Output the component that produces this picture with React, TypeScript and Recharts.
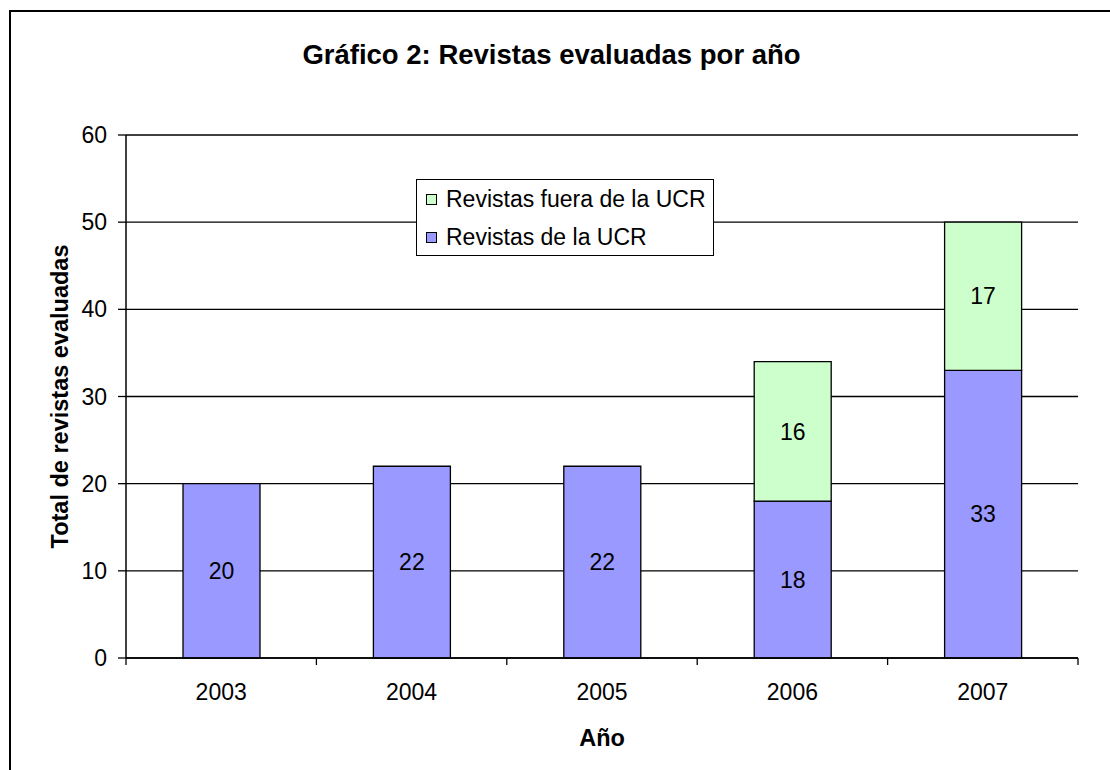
import React from "react";
import {
  Bar,
  BarChart,
  CartesianGrid,
  LabelList,
  Legend,
  XAxis,
  YAxis,
} from "recharts";

const years = ["2003", "2004", "2005", "2006", "2007"];
const revistasUcr = [20, 22, 22, 18, 33];
const revistasFuera: (number | null)[] = [null, null, null, 16, 17];
const yTicks = [0, 10, 20, 30, 40, 50, 60];

const data = years.map((year, i) => ({
  year,
  ucr: revistasUcr[i],
  fuera: revistasFuera[i],
}));

const W = 1110;
const H = 770;
const margin = { top: 135, right: 32, bottom: 72, left: 46 };
const yAxisWidth = 80;
const xAxisHeight = 40;
const plotWidth = W - margin.left - yAxisWidth - margin.right;
const band = plotWidth / years.length;

const FONT = "'Liberation Sans', Arial, sans-serif";
const BLUE = "#9999FF";
const GREEN = "#CCFFCC";
const FS = 23;

function YearTick(props: any) {
  const { x, y, payload, index } = props;
  const half = band / 2;
  return (
    <g>
      <text x={x} y={y + 42} textAnchor="middle" fontSize={FS} fill="#000" fontFamily={FONT}>
        {payload.value}
      </text>
      <line x1={x - half} x2={x - half} y1={y} y2={y + 7} stroke="#000" strokeWidth={1.3} />
      {index === years.length - 1 && (
        <line x1={x + half} x2={x + half} y1={y} y2={y + 7} stroke="#000" strokeWidth={1.3} />
      )}
    </g>
  );
}

function LegendBox(props: any) {
  const items = [...(props.payload || [])].reverse();
  return (
    <div
      style={{
        border: "1.5px solid #000",
        background: "#fff",
        boxSizing: "border-box",
        width: 298,
        height: 77,
        padding: "0 0 0 9px",
        fontFamily: FONT,
        fontSize: FS,
      }}
    >
      {items.map((it: any) => (
        <div key={it.value} style={{ display: "flex", alignItems: "center", height: 38 }}>
          <span
            style={{
              display: "inline-block",
              width: 9,
              height: 9,
              border: "1.3px solid #000",
              background: it.color,
              marginRight: 9,
            }}
          />
          <span>{it.value}</span>
        </div>
      ))}
    </div>
  );
}

export default function App() {
  return (
    <div
      style={{
        position: "absolute",
        left: 0,
        top: 0,
        width: W,
        height: H,
        overflow: "hidden",
        background: "#fff",
        fontFamily: FONT,
      }}
    >
      <div
        style={{
          position: "absolute",
          left: 9,
          top: 10,
          width: 1200,
          height: 900,
          border: "2px solid #000",
        }}
      />
      <div
        style={{
          position: "absolute",
          left: 0,
          width: 1103,
          top: 38,
          textAlign: "center",
          fontWeight: "bold",
          fontSize: 27.5,
          lineHeight: "34px",
        }}
      >
        Gráfico 2: Revistas evaluadas por año
      </div>
      <div style={{ position: "absolute", left: 0, top: 0 }}>
        <BarChart width={W} height={H} data={data} margin={margin} barSize={77}>
          <CartesianGrid vertical={false} stroke="#000" strokeWidth={1.3} />
          <XAxis
            dataKey="year"
            height={xAxisHeight}
            axisLine={{ stroke: "#000", strokeWidth: 1.5 }}
            tickLine={false}
            tickSize={0}
            tickMargin={0}
            tick={<YearTick />}
            interval={0}
            label={(p: any) => (
              <text
                x={p.viewBox.x + p.viewBox.width / 2}
                y={p.viewBox.y + 88}
                textAnchor="middle"
                fontWeight="bold"
                fontSize={23.5}
                fontFamily={FONT}
                fill="#000"
              >
                Año
              </text>
            )}
          />
          <YAxis
            width={yAxisWidth}
            domain={[0, 60]}
            ticks={yTicks}
            interval={0}
            axisLine={{ stroke: "#000", strokeWidth: 1.5 }}
            tickLine={{ stroke: "#000", strokeWidth: 1.3 }}
            tickSize={8}
            tickMargin={11}
            tick={{ fill: "#000", fontSize: FS, fontFamily: FONT }}
            label={(p: any) => {
              const cx = 60;
              const cy = p.viewBox.y + p.viewBox.height / 2;
              return (
                <text
                  x={cx}
                  y={cy}
                  dy="0.36em"
                  transform={`rotate(-90, ${cx}, ${cy})`}
                  textAnchor="middle"
                  fontWeight="bold"
                  fontSize={23.5}
                  fontFamily={FONT}
                  fill="#000"
                >
                  Total de revistas evaluadas
                </text>
              );
            }}
          />
          <Legend
            layout="vertical"
            align="center"
            verticalAlign="middle"
            content={<LegendBox />}
            wrapperStyle={{ left: 416, top: 179, width: 298, height: 77 }}
          />
          <Bar
            dataKey="ucr"
            name="Revistas de la UCR"
            stackId="a"
            fill={BLUE}
            stroke="#000"
            strokeWidth={1.3}
            isAnimationActive={false}
          >
            <LabelList dataKey="ucr" position="center" fill="#000" fontSize={FS} fontFamily={FONT} />
          </Bar>
          <Bar
            dataKey="fuera"
            name="Revistas fuera de la UCR"
            stackId="a"
            fill={GREEN}
            stroke="#000"
            strokeWidth={1.3}
            isAnimationActive={false}
          >
            <LabelList dataKey="fuera" position="center" fill="#000" fontSize={FS} fontFamily={FONT} />
          </Bar>
        </BarChart>
      </div>
    </div>
  );
}
